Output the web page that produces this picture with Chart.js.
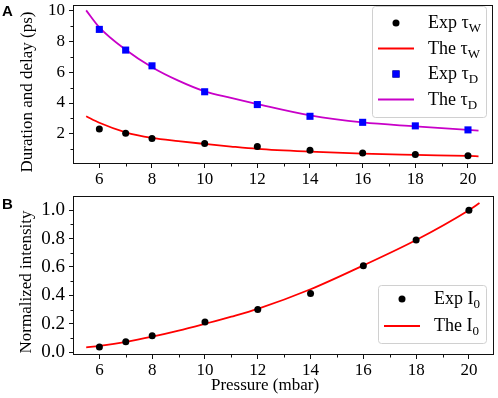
<!DOCTYPE html>
<html>
<head>
<meta charset="utf-8">
<script src="https://cdn.jsdelivr.net/npm/chart.js@4.4.1/dist/chart.umd.min.js"></script>
<style>
  html, body { margin: 0; padding: 0; background: #fff; }
  #wrap { position: relative; width: 498px; height: 398px; }
  .panel { position: absolute; left: 0; }
  #panelA { top: 0; }
  #panelB { top: 190px; }
</style>
</head>
<body>
<div id="wrap">
  <div class="panel" id="panelA"><canvas id="chartA" width="498" height="190"></canvas></div>
  <div class="panel" id="panelB"><canvas id="chartB" width="498" height="208"></canvas></div>
</div>
<script>
// measured points (pressure in mbar)
const pressure = [6, 7, 8, 10, 12, 14, 16, 18, 20];
const expTauW = [2.32, 2.04, 1.70, 1.37, 1.18, 0.94, 0.77, 0.66, 0.59];
const expTauD = [8.77, 7.43, 6.41, 4.73, 3.90, 3.14, 2.75, 2.52, 2.26];
const expI0 = [0.037, 0.074, 0.116, 0.213, 0.30, 0.414, 0.609, 0.79, 1.0];

// theory curves
const fitPressure = [5.5, 6, 7, 8, 9, 10, 11, 12, 14, 16, 18, 20, 20.4];
const theTauW = [3.14, 2.72, 2.10, 1.74, 1.53, 1.35, 1.18, 1.03, 0.85, 0.72, 0.64, 0.57, 0.55];
const theTauD = [10.0, 8.9, 7.45, 6.32, 5.45, 4.76, 4.33, 3.93, 3.2, 2.74, 2.49, 2.26, 2.21];
const theI0 = [0.033, 0.044, 0.072, 0.109, 0.152, 0.20, 0.25, 0.305, 0.443, 0.611, 0.79, 1.0, 1.05];

// ticks
const xTicks = [6, 8, 10, 12, 14, 16, 18, 20];
const xMinor = [7, 9, 11, 13, 15, 17, 19];
const yTicksA = [2, 4, 6, 8, 10];
const yMinorA = [1, 3, 5, 7, 9];
const yTicksB = [0, 0.2, 0.4, 0.6, 0.8, 1.0];
const yMinorB = [0.1, 0.3, 0.5, 0.7, 0.9];

const serif = "'Liberation Serif', 'DejaVu Serif', serif";
Chart.defaults.font.family = serif;
Chart.defaults.color = '#000';

function pts(xs, ys) {
    return xs.map((x, i) => ({ x: x, y: ys[i] }));
}

// frame, minor ticks, titles, panel letter and legend with subscripts
const panelExtras = {
    id: 'panelExtras',
    afterDraw(chart, args, opts) {
        const ctx = chart.ctx;
        const a = chart.chartArea;
        const xs = chart.scales.x, ys = chart.scales.y;
        ctx.save();

        ctx.strokeStyle = '#111';
        ctx.lineWidth = 1;
        ctx.strokeRect(Math.round(a.left) + 0.5, Math.round(a.top) + 0.5,
            Math.round(a.right - a.left) - 1, Math.round(a.bottom - a.top) - 1);

        ctx.beginPath();
        opts.xMinor.forEach(v => {
            const px = Math.round(xs.getPixelForValue(v)) + 0.5;
            ctx.moveTo(px, a.bottom);
            ctx.lineTo(px, a.bottom + 2.5);
        });
        opts.yMinor.forEach(v => {
            const py = Math.round(ys.getPixelForValue(v)) + 0.5;
            ctx.moveTo(a.left, py);
            ctx.lineTo(a.left - 2.5, py);
        });
        ctx.stroke();

        ctx.fillStyle = '#000';
        ctx.font = '17px ' + serif;
        ctx.textAlign = 'center';
        ctx.textBaseline = 'middle';
        if (opts.yTitle) {
            ctx.save();
            ctx.translate(opts.yTitle.x, opts.yTitle.y);
            ctx.rotate(-Math.PI / 2);
            ctx.fillText(opts.yTitle.text, 0, 0);
            ctx.restore();
        }
        if (opts.xTitle) {
            ctx.fillText(opts.xTitle.text, opts.xTitle.x, opts.xTitle.y);
        }

        ctx.font = 'bold 15px "Liberation Sans"';
        ctx.textAlign = 'left';
        ctx.fillText(opts.letter.text, opts.letter.x, opts.letter.y);

        // legend
        const L = opts.legend;
        ctx.beginPath();
        ctx.roundRect(L.x + 0.5, L.y + 0.5, L.w, L.h, 3);
        ctx.fillStyle = 'rgba(255,255,255,0.8)';
        ctx.fill();
        ctx.strokeStyle = '#d0d0d0';
        ctx.stroke();

        chart.data.datasets.forEach((ds, i) => {
            const cy = L.y + L.first + i * L.gap;
            if (ds.showLine) {
                ctx.beginPath();
                ctx.strokeStyle = ds.borderColor;
                ctx.lineWidth = ds.borderWidth;
                ctx.moveTo(L.x + L.line0, cy);
                ctx.lineTo(L.x + L.line1, cy);
                ctx.stroke();
            } else {
                Chart.helpers.drawPoint(ctx, {
                    pointStyle: ds.pointStyle, radius: ds.pointRadius,
                    rotation: 0, borderWidth: 0
                }, L.x + (L.line0 + L.line1) / 2, cy);
                ctx.fillStyle = ds.backgroundColor;
                ctx.fill();
            }
            const parts = ds.label.split('_');
            ctx.fillStyle = '#000';
            ctx.textBaseline = 'alphabetic';
            ctx.font = '18px ' + serif;
            let tx = L.x + L.text;
            ctx.fillText(parts[0], tx, cy + 5);
            tx += ctx.measureText(parts[0]).width;
            if (parts[1]) {
                ctx.font = '13px ' + serif;
                ctx.fillText(parts[1], tx, cy + 9);
            }
        });
        ctx.restore();
    }
};

function axisOptions(yTicks, yMin, yMax, yFmt, yFontSize, xHeight) {
    return {
        x: {
            type: 'linear',
            min: 5,
            max: 20.95,
            afterBuildTicks: s => { s.ticks = xTicks.map(v => ({ value: v })); },
            afterFit: s => { s.height = xHeight; s.paddingLeft = 0; s.paddingRight = 0; },
            grid: { drawOnChartArea: false, tickLength: 4, color: '#111' },
            border: { display: false },
            ticks: { font: { family: serif, size: 17 }, color: '#000', padding: 1, maxRotation: 0 }
        },
        y: {
            min: yMin,
            max: yMax,
            afterBuildTicks: s => { s.ticks = yTicks.map(v => ({ value: v })); },
            afterFit: s => { s.width = 73; s.paddingTop = 0; s.paddingBottom = 0; },
            grid: { drawOnChartArea: false, tickLength: 4, color: '#111' },
            border: { display: false },
            ticks: { font: { family: serif, size: yFontSize }, color: '#000', padding: 4, callback: yFmt }
        }
    };
}

new Chart(document.getElementById('chartA'), {
    type: 'scatter',
    data: {
        datasets: [
            { label: 'Exp τ_W', data: pts(pressure, expTauW), showLine: false, pointStyle: 'circle',
              pointRadius: 3.5, backgroundColor: '#000000', borderColor: '#000000', borderWidth: 0 },
            { label: 'The τ_W', data: pts(fitPressure, theTauW), showLine: true, pointRadius: 0,
              borderColor: '#ff0000', borderWidth: 1.8, cubicInterpolationMode: 'monotone' },
            { label: 'Exp τ_D', data: pts(pressure, expTauD), showLine: false, pointStyle: 'rect',
              pointRadius: 5, backgroundColor: '#0000ff', borderColor: '#0000ff', borderWidth: 0 },
            { label: 'The τ_D', data: pts(fitPressure, theTauD), showLine: true, pointRadius: 0,
              borderColor: '#c800c8', borderWidth: 1.8, cubicInterpolationMode: 'monotone' }
        ]
    },
    options: {
        responsive: false,
        animation: false,
        layout: { padding: { top: 3, right: 3, left: 0, bottom: 0 } },
        scales: axisOptions(yTicksA, 0.05, 10.35, v => String(v), 17, 26),
        plugins: {
            legend: { display: false },
            tooltip: { enabled: false },
            panelExtras: {
                xMinor: xMinor, yMinor: yMinorA,
                yTitle: { text: 'Duration and delay (ps)', x: 28, y: 92 },
                letter: { text: 'A', x: 2, y: 12 },
                legend: { x: 372, y: 6, w: 114, h: 111, first: 17, gap: 25.5, line0: 6, line1: 42, text: 56 }
            }
        }
    },
    plugins: [panelExtras]
});

new Chart(document.getElementById('chartB'), {
    type: 'scatter',
    data: {
        datasets: [
            { label: 'Exp I_0', data: pts(pressure, expI0), showLine: false, pointStyle: 'circle',
              pointRadius: 3.5, backgroundColor: '#000000', borderColor: '#000000', borderWidth: 0 },
            { label: 'The I_0', data: pts(fitPressure, theI0), showLine: true, pointRadius: 0,
              borderColor: '#ff0000', borderWidth: 1.8, cubicInterpolationMode: 'monotone' }
        ]
    },
    options: {
        responsive: false,
        animation: false,
        layout: { padding: { top: 6, right: 4, left: 0, bottom: 0 } },
        scales: axisOptions(yTicksB, -0.02, 1.10, v => v.toFixed(1), 19, 43),
        plugins: {
            legend: { display: false },
            tooltip: { enabled: false },
            panelExtras: {
                xMinor: xMinor, yMinor: yMinorB,
                yTitle: { text: 'Normalized intensity', x: 27, y: 92 },
                xTitle: { text: 'Pressure (mbar)', x: 265, y: 196 },
                letter: { text: 'B', x: 2, y: 15 },
                legend: { x: 378, y: 95, w: 108, h: 58, first: 14, gap: 27, line0: 6, line1: 42, text: 56 }
            }
        }
    },
    plugins: [panelExtras]
});
</script>
</body>
</html>
